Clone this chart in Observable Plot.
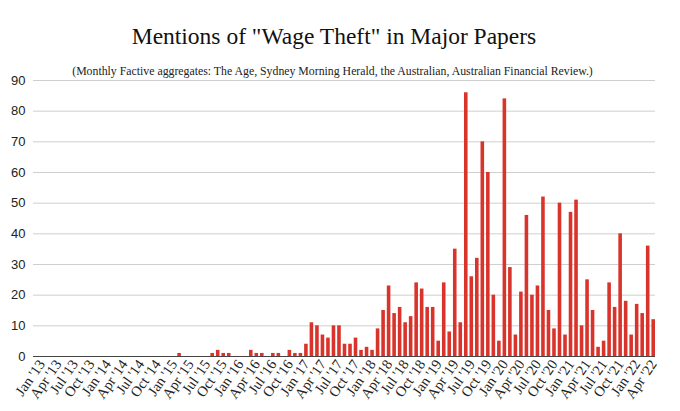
<!DOCTYPE html>
<html><head><meta charset="utf-8">
<script src="https://cdn.jsdelivr.net/npm/d3@7"></script>
<script src="https://cdn.jsdelivr.net/npm/@observablehq/plot@0.6"></script>
<style>
body{margin:0;background:#fff;width:680px;height:411px;overflow:hidden}
#head{position:relative;width:680px;height:72px}
#title{position:absolute;left:0;width:668px;top:25px;text-align:center;font-family:"Liberation Serif","Times New Roman",serif;font-size:23.5px;line-height:1;color:#111;white-space:nowrap}
#sub{position:absolute;left:0;width:665px;top:66px;text-align:center;font-family:"Liberation Serif","Times New Roman",serif;font-size:11.8px;line-height:1;color:#222;white-space:nowrap}
#chart{width:680px;height:339px}
</style></head><body>
<div id="head">
<div id="title">Mentions of "Wage Theft" in Major Papers</div>
<div id="sub">(Monthly Factive aggregates: The Age, Sydney Morning Herald, the Australian, Australian Financial Review.)</div>
</div>
<div id="chart"></div>
<script>
const monthNames = ["Jan","Feb","Mar","Apr","May","Jun","Jul","Aug","Sep","Oct","Nov","Dec"];
const years = [2013,2014,2015,2016,2017,2018,2019,2020,2021,2022];
const m2013 = [0,0,0,0,0,0,0,0,0,0,0,0];
const m2014 = [0,0,0,0,0,0,0,0,0,0,0,0];
const m2015 = [0,1,0,0,0,0,0,1,2,1,1,0];
const m2016 = [0,0,2,1,1,0,1,1,0,2,1,1];
const m2017 = [4,11,10,7,6,10,10,4,4,6,2,3];
const m2018 = [2,9,15,23,14,16,11,13,24,22,16,16];
const m2019 = [5,24,8,35,11,86,26,32,70,60,20,5];
const m2020 = [84,29,7,21,46,20,23,52,15,9,50,7];
const m2021 = [47,51,10,25,15,3,5,24,16,40,18,7];
const m2022 = [17,14,36,12];
const yTicks = [0,10,20,30,40,50,60,70,80,90];

const series = [m2013,m2014,m2015,m2016,m2017,m2018,m2019,m2020,m2021,m2022];
const data = [];
series.forEach((arr, yi) => {
  arr.forEach((v, mi) => {
    data.push({label: `${monthNames[mi]} '${String(years[yi]).slice(2)}`, month: mi, value: v});
  });
});
const labels = data.map(d => d.label);
const tickLabels = data.filter(d => d.month % 3 === 0).map(d => d.label);

const chart = Plot.plot({
  width: 680,
  height: 339,
  marginTop: 8,
  marginBottom: 55,
  marginLeft: 33,
  marginRight: 25,
  style: {background: "#fff", overflow: "visible"},
  x: {type: "band", domain: labels, paddingInner: 0.35, paddingOuter: 0, insetLeft: 6.5, insetRight: 0},
  y: {domain: [0, 90]},
  marks: [
    Plot.gridY(yTicks, {stroke: "#cfcfcf", strokeOpacity: 1, strokeWidth: 1}),
    Plot.barY(data, {x: "label", y: "value", fill: "#d9342b"}),
    Plot.ruleY([0], {stroke: "#444", strokeWidth: 1}),
    Plot.axisY(yTicks, {tickSize: 0, tickPadding: 8, fontSize: 13, fontFamily: "'Liberation Sans', Arial, sans-serif", fill: "#222", label: null}),
    Plot.axisX(tickLabels, {tickSize: 0, tickPadding: 5, tickRotate: -55, fontSize: 14.5, fontFamily: "'Liberation Serif', 'Times New Roman', serif", fill: "#222", label: null})
  ]
});
document.getElementById("chart").appendChild(chart);
</script>
</body></html>
